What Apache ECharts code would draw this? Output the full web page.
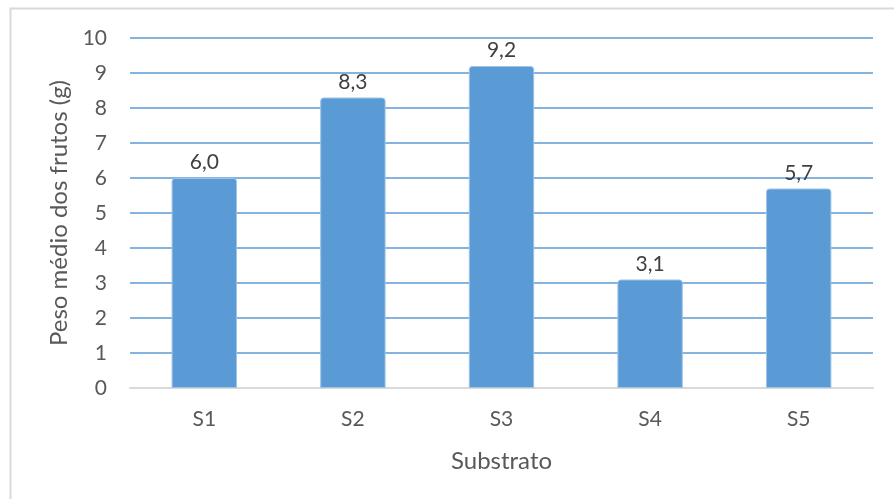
<!DOCTYPE html>
<html>
<head>
<meta charset="utf-8">
<title>Peso médio dos frutos</title>
<script src="https://cdn.jsdelivr.net/npm/echarts@6/dist/echarts.min.js"></script>
<style>
  html, body { margin: 0; padding: 0; background: #ffffff; }
  #chart { width: 894px; height: 499px; }
</style>
</head>
<body>
<div id="chart"></div>
<script>
// Substrates and mean fruit weight (g)
const categories = ['S1', 'S2', 'S3', 'S4', 'S5'];
const meanWeight = [6.0, 8.3, 9.2, 3.1, 5.7];
const yTicks = [0, 1, 2, 3, 4, 5, 6, 7, 8, 9, 10];

const FONT = 'Lato, "Open Sans", sans-serif';
const TEXT = '#595959';
const BAR = '#5B9BD5';

const chart = echarts.init(document.getElementById('chart'), null, { renderer: 'canvas' });

chart.setOption({
  animation: false,
  backgroundColor: '#ffffff',
  graphic: [{
    type: 'rect',
    shape: { x: 10.5, y: 8.5, width: 900, height: 520 },
    style: { fill: 'none', stroke: '#d9d9d9', lineWidth: 2 },
    silent: true
  }],
  grid: { left: 130, right: 21, top: 38, bottom: 111 },
  xAxis: {
    type: 'category',
    data: categories,
    name: 'Substrato',
    nameLocation: 'middle',
    nameGap: 61,
    nameTextStyle: { fontFamily: FONT, fontSize: 24, color: TEXT },
    axisLine: { show: true, lineStyle: { color: '#d9d9d9', width: 2 } },
    axisTick: { show: false },
    axisLabel: { fontFamily: FONT, fontSize: 21, color: TEXT, margin: 21 }
  },
  yAxis: {
    type: 'value',
    min: yTicks[0],
    max: yTicks[yTicks.length - 1],
    interval: 1,
    name: 'Peso médio dos frutos (g)',
    nameLocation: 'middle',
    nameGap: 57,
    nameTextStyle: { fontFamily: FONT, fontSize: 24, color: TEXT },
    axisLine: { show: false },
    axisTick: { show: false },
    axisLabel: { fontFamily: FONT, fontSize: 21, color: TEXT, margin: 23 },
    splitLine: { lineStyle: { color: BAR, width: 1.5 } }
  },
  series: [{
    type: 'bar',
    data: meanWeight,
    barWidth: '44%',
    z: 3,
    itemStyle: {
      color: BAR,
      borderColor: '#9DC3E6',
      borderWidth: 1,
      borderRadius: [3, 3, 0, 0]
    },
    label: {
      show: true,
      position: 'top',
      distance: 5,
      fontFamily: FONT,
      fontSize: 21,
      color: '#404040',
      formatter: p => p.value.toFixed(1).replace('.', ',')
    }
  }]
});
</script>
</body>
</html>
